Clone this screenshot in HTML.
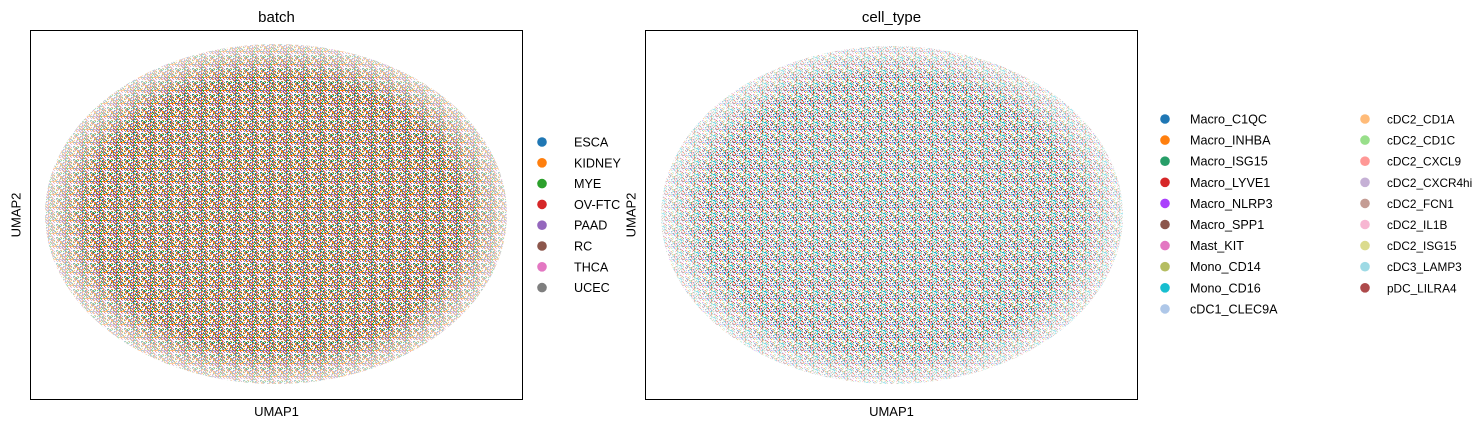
<!DOCTYPE html>
<html><head><meta charset="utf-8"><style>
body{margin:0;background:#fff;}
svg{display:block;font-family:"Liberation Sans","DejaVu Sans",sans-serif;}
</style></head><body>
<svg id="fig" width="1473" height="429" viewBox="0 0 1473 429">
<defs id="defs"></defs>
<g id="root"></g>
</svg>
<script>
const batchCats=["ESCA","KIDNEY","MYE","OV-FTC","PAAD","RC","THCA","UCEC"];
const batchColors=["#1f77b4","#ff7f0e","#2ca02c","#d62728","#9467bd","#8c564b","#e377c2","#7f7f7f"];
const batchWeights=[2,6,2,1,1,1,2,3];
const cellCats=["Macro_C1QC","Macro_INHBA","Macro_ISG15","Macro_LYVE1","Macro_NLRP3","Macro_SPP1","Mast_KIT","Mono_CD14","Mono_CD16","cDC1_CLEC9A","cDC2_CD1A","cDC2_CD1C","cDC2_CXCL9","cDC2_CXCR4hi","cDC2_FCN1","cDC2_IL1B","cDC2_ISG15","cDC3_LAMP3","pDC_LILRA4"];
const cellColors=["#1f77b4","#ff7f0e","#279e68","#d62728","#aa40fc","#8c564b","#e377c2","#b5bd61","#17becf","#aec7e8","#ffbb78","#98df8a","#ff9896","#c5b0d5","#c49c94","#f7b6d2","#dbdb8d","#9edae5","#ad494a"];
const cellWeights=[1,1,1,1,1,1,1,1,2,2,1,1,1,1,1,1,1,3,1];

const NS="http://www.w3.org/2000/svg";
const root=document.getElementById('root');
const defs=document.getElementById('defs');
function mk(tag,attrs,parent){const e=document.createElementNS(NS,tag);for(const k in attrs)e.setAttribute(k,attrs[k]);(parent||root).appendChild(e);return e;}

function makePattern(id,colors,weights){
  const pool=[];weights.forEach((w,i)=>{for(let k=0;k<w;k++)pool.push(colors[i]);});
  const p=mk('pattern',{id:id,width:17,height:13,patternUnits:'userSpaceOnUse'},defs);
  for(let y=0;y<13;y++)for(let x=0;x<17;x++){
    const h=(x*31+y*17+x*y*7)%23;
    if(h<10)continue;
    const c=pool[(x*5+y*11+x*y)%pool.length];
    mk('rect',{x:x,y:y,width:1.1,height:1.1,fill:c},p);
  }
  return p;
}
makePattern('patB',batchColors,batchWeights);
makePattern('patC',cellColors,cellWeights);
const g=mk('radialGradient',{id:'fade'},defs);
mk('stop',{offset:'0.8',"stop-color":'#fff',"stop-opacity":'1'},g);
mk('stop',{offset:'1','stop-color':'#fff','stop-opacity':'0.35'},g);
const m=mk('mask',{id:'fm',maskContentUnits:'objectBoundingBox'},defs);
mk('rect',{x:0,y:0,width:1,height:1,fill:'url(#fade)'},m);

function panel(x0,title,pat,cx,cy,rx,ry,name){
  const grp=mk('g',{});
  
  
  const e=mk('ellipse',{cx:cx,cy:cy,rx:rx,ry:ry,fill:'url(#'+pat+')',mask:'url(#fm)'},grp);
  
  
  const fr=mk('rect',{x:x0,y:30.5,width:492,height:369,fill:'none',stroke:'#000','stroke-width':1},grp);
  
  
  const t=mk('text',{x:x0+246,y:22,'text-anchor':'middle','font-size':15},grp);t.textContent=title;
  
  
  const xl=mk('text',{x:x0+246,y:416,'text-anchor':'middle','font-size':13},grp);xl.textContent='UMAP1';
  
  
  const yl=mk('text',{x:0,y:0,'text-anchor':'middle','font-size':13,transform:'translate('+(x0-10)+',215) rotate(-90)'},grp);yl.textContent='UMAP2';
  
  
}
panel(30.5,'batch','patB',276,214,231,170,'batch-panel');
panel(645.5,'cell_type','patC',892,215,231,169,'cell-type-panel');

function legend(cats,colors,dx,tx,y0,step,fs){
  cats.forEach((c,i)=>{
    const y=y0+i*step;
    const d=mk('circle',{cx:dx,cy:y,r:4.8,fill:colors[i]});
    
    
    const t=mk('text',{x:tx,y:y+4.5,'font-size':fs});t.textContent=c;
    
    
  });
}
legend(batchCats,batchColors,542,574,142,20.8,12.6);
legend(cellCats.slice(0,10),cellColors.slice(0,10),1165,1190,119,21.1,12.6);
legend(cellCats.slice(10),cellColors.slice(10),1365,1387,119,21.1,11.8);
</script>
</body></html>
